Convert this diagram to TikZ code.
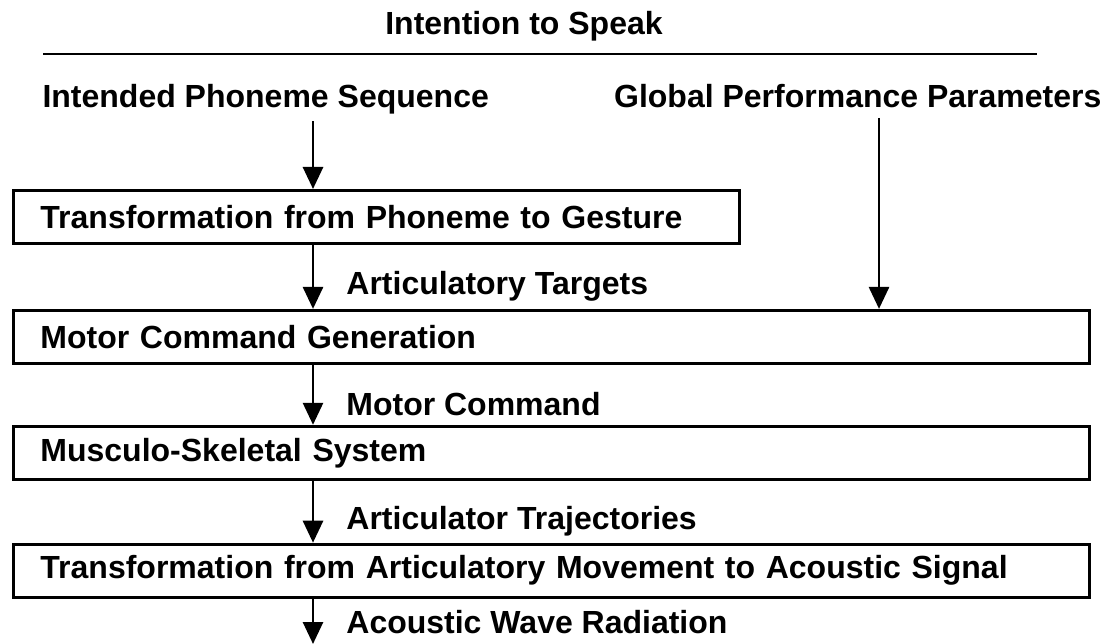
\documentclass[tikz,border=0pt]{standalone}
\usepackage{fontspec}
\setmainfont{Liberation Sans}
\usetikzlibrary{arrows.meta,positioning}
\tikzset{
    stagebox/.style={rectangle,draw,line width=2.9pt,anchor=north west,minimum height=53pt,inner xsep=27pt,align=left},
    narrowbox/.style={stagebox,text width=672pt},
    widebox/.style={stagebox,text width=1022pt},
    streamline/.style={-{Triangle[length=22pt,width=20pt]},line width=2.8pt},
    streamlabel/.style={right=30pt,inner sep=2pt,pos=0.65},
    ruleline/.style={line width=2.9pt}
}

\begin{document}
\begin{tikzpicture}[x=1pt,y=-1pt,every node/.style={font=\fontsize{32}{38}\selectfont\bfseries}]
            \useasboundingbox (0,0) rectangle (1110,644);
            \node[anchor=base] (intent) at (524,35) {Intention to Speak};
            \coordinate (rulewest) at (43,54);
            \coordinate (ruleeast) at (1037,54);
            \node[anchor=base west] (phonseq) at (39,108) {Intended Phoneme Sequence};
            \node[anchor=base east] (globpar) at (1105,108) {Global Performance Parameters};
            \node[narrowbox] (phongest) at (12,189) {Transformation from Phoneme to Gesture};
            \node[widebox,below=64pt of phongest.south west,anchor=north west] (motgen) {Motor Command Generation};
            \node[widebox,below=60pt of motgen.south west,anchor=north west] (muscsys) {Musculo-Skeletal System};
            \node[widebox,below=62pt of muscsys.south west,anchor=north west] (acoustrans) {Transformation from Articulatory Movement to Acoustic Signal};
            \coordinate (spine) at (313,0);
            \coordinate (globx) at (879,0);
            \coordinate (outlet) at (313,644);
            \draw[ruleline] (rulewest) -- (ruleeast);
            \draw[streamline,shorten <=3pt] (phonseq.south -| spine) -- (phongest.north -| spine);
            \draw[streamline,shorten <=6pt] (globpar.south -| globx) -- (motgen.north -| globx);
            \draw[streamline] (phongest.south -| spine) -- node[streamlabel]{Articulatory Targets} (motgen.north -| spine);
            \draw[streamline] (motgen.south -| spine) -- node[streamlabel]{Motor Command} (muscsys.north -| spine);
            \draw[streamline] (muscsys.south -| spine) -- node[streamlabel]{Articulator Trajectories} (acoustrans.north -| spine);
            \draw[streamline] (acoustrans.south -| spine) -- node[streamlabel,pos=0.52]{Acoustic Wave Radiation} (outlet);
        \end{tikzpicture}
\end{document}
